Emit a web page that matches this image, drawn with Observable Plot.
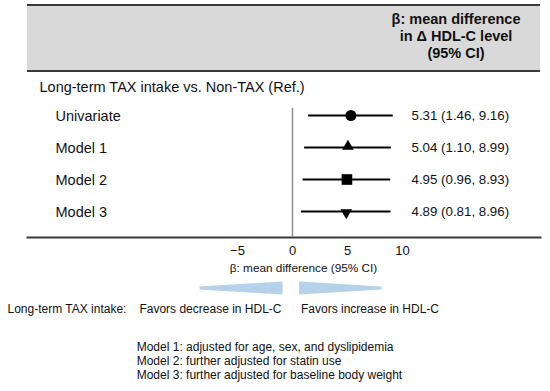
<!DOCTYPE html>
<html>
<head>
<meta charset="utf-8">
<script src="https://cdn.jsdelivr.net/npm/d3@7"></script>
<script src="https://cdn.jsdelivr.net/npm/@observablehq/plot@0.6"></script>
<style>
  body { margin: 0; background: #fff; font-family: "Liberation Sans", Arial, sans-serif; color: #111; }
  #wrap { position: relative; width: 550px; height: 391px; overflow: hidden; }
  #header { position: absolute; left: 27px; top: 4px; width: 513px; height: 64px; background: #d9d9d9;
            border-top: 2px solid #3a3a3a; border-bottom: 2px solid #3a3a3a; }
  #htext { position: absolute; left: 329px; width: 200px; top: 4.7px; text-align: center;
           font-weight: bold; font-size: 14.5px; line-height: 17.2px; color: #111; }
  #chart { position: absolute; left: 0; top: 72px; }
  #notes { position: absolute; left: 136.7px; top: 341px; font-size: 12px; line-height: 13.9px; color: #111; }
</style>
</head>
<body>
<div id="wrap">
  <div id="header"><div id="htext"></div></div>
  <div id="chart"></div>
  <div id="notes"></div>
</div>
<script>
// ---- data ----
const headerLines = ["β: mean difference", "in Δ HDL-C level", "(95% CI)"];
const groupLabel = "Long-term TAX intake vs. Non-TAX (Ref.)";
const models = ["Univariate", "Model 1", "Model 2", "Model 3"];
const estimates = [5.31, 5.04, 4.95, 4.89];
const lower = [1.46, 1.10, 0.96, 0.81];
const upper = [9.16, 8.99, 8.93, 8.96];
const xTicks = [-5, 0, 5, 10];
const axisTitle = "β: mean difference (95% CI)";
const favorsLead = "Long-term TAX intake:";
const favorsLeft = "Favors decrease in HDL-C";
const favorsRight = "Favors increase in HDL-C";
const footnotes = [
  "Model 1: adjusted for age, sex, and dyslipidemia",
  "Model 2: further adjusted for statin use",
  "Model 3: further adjusted for baseline body weight"
];

// ---- build ----
document.getElementById("htext").innerHTML = headerLines.map(s => `<div>${s}</div>`).join("");
document.getElementById("notes").innerHTML = footnotes.map(s => `<div>${s}</div>`).join("");

const rows = models.map((m, i) => ({
  model: m, est: estimates[i], lo: lower[i], hi: upper[i],
  label: `${estimates[i].toFixed(2)} (${lower[i].toFixed(2)}, ${upper[i].toFixed(2)})`
}));

const font = '"Liberation Sans", Arial, sans-serif';
const arrowFill = "#b6d1ea";

function arrows(index, scales, values, dims) {
  const x = scales.x;
  const yb = dims.height - dims.marginBottom;
  const top = yb + 44.5, bot = yb + 57.5, mid = yb + 51;
  const g = d3.create("svg:g").attr("fill", arrowFill);
  // left arrow: tip at left, wide at right (near zero)
  const l0 = x(-8.4), l1 = x(-0.85);
  g.append("path").attr("d", `M${l0},${mid - 1.5}L${l1},${top}L${l1},${bot}L${l0},${mid + 1.5}Z`);
  // right arrow: wide at left (near zero), tip at right
  const r0 = x(0.65), r1 = x(8.15);
  g.append("path").attr("d", `M${r0},${top}L${r1},${mid - 1.5}L${r1},${mid + 1.5}L${r0},${bot}Z`);
  return g.node();
}

const chart = Plot.plot({
  width: 550,
  height: 248,
  marginLeft: 27,
  marginRight: 10,
  marginTop: 0,
  marginBottom: 83,
  style: { fontFamily: font, color: "#111", background: "transparent", overflow: "visible" },
  x: { domain: [-5, 10], range: [237, 402] },
  y: { type: "point", domain: models, range: [42, 140], padding: 0, axis: null },
  marks: [
    Plot.frame({ anchor: "bottom", stroke: "#3a3a3a", strokeWidth: 2 }),
    Plot.ruleX([0], { insetTop: 36, stroke: "#8c8c8c", strokeWidth: 1.5 }),
    Plot.ruleY(rows, { y: "model", x1: "lo", x2: "hi", stroke: "#000", strokeWidth: 2 }),
    Plot.dot(rows.filter(d => d.model === "Univariate"), { x: "est", y: "model", symbol: "circle", r: 5.5, fill: "#000", stroke: "none" }),
    Plot.dot(rows.filter(d => d.model === "Model 1"), { x: "est", y: "model", symbol: "triangle", r: 4.3, fill: "#000", stroke: "none", dy: -1 }),
    Plot.dot(rows.filter(d => d.model === "Model 2"), { x: "est", y: "model", symbol: "square", r: 6, fill: "#000", stroke: "none" }),
    Plot.dot(rows.filter(d => d.model === "Model 3"), { x: "est", y: "model", symbol: "triangle", r: 4.3, rotate: 180, fill: "#000", stroke: "none", dy: 1 }),
    Plot.text([groupLabel], { frameAnchor: "top-left", dx: 12, dy: 14.7, textAnchor: "start", lineAnchor: "middle", fontSize: 14.5, fill: "#111" }),
    Plot.text(rows, { y: "model", text: "model", frameAnchor: "left", dx: 28, dy: 1, textAnchor: "start", fontSize: 14.5, fill: "#111" }),
    Plot.text(rows, { y: "model", text: "label", frameAnchor: "right", dx: -129, textAnchor: "start", fontSize: 13.3, fill: "#111" }),
    Plot.axisX({ ticks: xTicks, tickSize: 0, tickPadding: 8, fontSize: 13, label: null, fill: "#111" }),
    Plot.text([axisTitle], { x: 1, frameAnchor: "bottom", dy: 31, lineAnchor: "middle", fontSize: 11.8, fill: "#111" }),
    arrows,
    Plot.text([favorsLead], { frameAnchor: "bottom-left", dx: -20, dy: 72, textAnchor: "start", lineAnchor: "middle", fontSize: 12, fill: "#111" }),
    Plot.text([favorsLeft], { x: -1, frameAnchor: "bottom", dy: 72, textAnchor: "end", lineAnchor: "middle", fontSize: 12, fill: "#111" }),
    Plot.text([favorsRight], { x: 0.77, frameAnchor: "bottom", dy: 72, textAnchor: "start", lineAnchor: "middle", fontSize: 12, fill: "#111" })
  ]
});
document.getElementById("chart").append(chart);
</script>
</body>
</html>
